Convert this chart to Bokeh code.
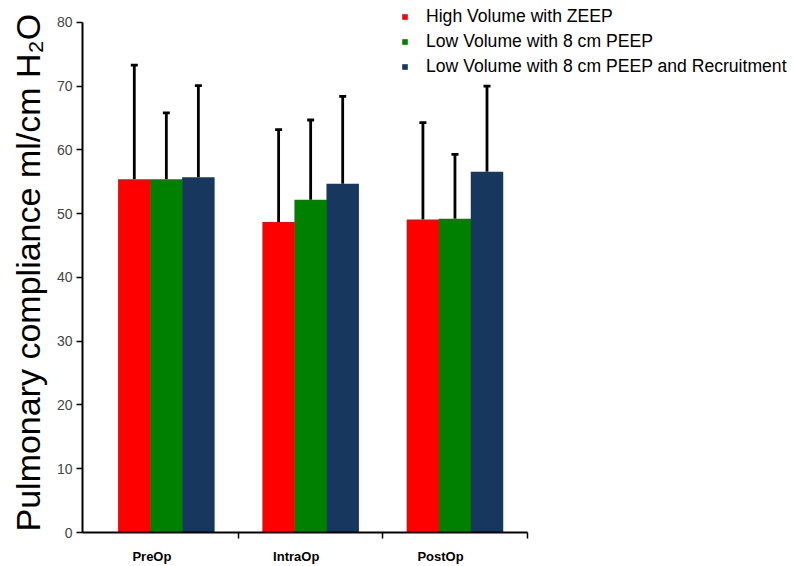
from bokeh.plotting import figure
from bokeh.models import ColumnDataSource, Whisker, Legend, LegendItem, FixedTicker, TeeHead, Range1d, Title
from bokeh.embed import file_html
from bokeh.resources import INLINE

periods = ["PreOp", "IntraOp", "PostOp"]
series_names = ["High Volume with ZEEP",
                "Low Volume with 8 cm PEEP",
                "Low Volume with 8 cm PEEP and Recruitment"]
high_zeep_mean = [55.4, 48.7, 49.1]
high_zeep_upper = [73.3, 63.2, 64.3]
low_peep_mean = [55.4, 52.2, 49.2]
low_peep_upper = [65.8, 64.7, 59.3]
low_peep_rm_mean = [55.7, 54.7, 56.6]
low_peep_rm_upper = [70.1, 68.4, 70.0]
y_ticks = [0, 10, 20, 30, 40, 50, 60, 70, 80]

colors = ["#FF0000", "#008000", "#17375E"]
means = [high_zeep_mean, low_peep_mean, low_peep_rm_mean]
uppers = [high_zeep_upper, low_peep_upper, low_peep_rm_upper]
offsets = [-0.222, 0.0, 0.222]
bar_w = 0.225

p = figure(width=794, height=566, output_backend="svg", toolbar_location=None,
           x_range=Range1d(-0.581, 4.339), y_range=Range1d(0, 83.44),
           min_border_left=81, min_border_right=2, min_border_top=0, min_border_bottom=33)
p.outline_line_color = None
p.xgrid.grid_line_color = None
p.ygrid.grid_line_color = None

renderers = []
for name, col, m, u, off in zip(series_names, colors, means, uppers, offsets):
    xs = [i + off for i in range(len(periods))]
    src = ColumnDataSource(dict(x=xs, top=m, upper=u))
    r = p.vbar(x="x", top="top", bottom=0, width=bar_w, source=src,
               fill_color=col, line_color=None)
    renderers.append(r)
    w = Whisker(base="x", lower="top", upper="upper", source=src, dimension="height",
                line_color="black", line_width=2.8,
                upper_head=TeeHead(size=7, line_color="black", line_width=2.8),
                lower_head=None)
    p.add_layout(w)

legend = Legend(items=[LegendItem(label=n, renderers=[r]) for n, r in zip(series_names, renderers)],
                location=(319, 455), orientation="vertical",
                glyph_width=7, glyph_height=7, label_standoff=18, label_height=20, spacing=4,
                padding=0, margin=0, background_fill_alpha=0, border_line_alpha=0,
                label_text_font="Liberation Sans", label_text_font_size="17.6px",
                label_text_color="black")
p.add_layout(legend)

# x axis
label_pos = [i - 0.1 for i in range(len(periods))]
p.xaxis.ticker = FixedTicker(ticks=label_pos, minor_ticks=[0.5, 1.5, 2.5])
p.xaxis.major_label_overrides = {lp: name for lp, name in zip(label_pos, periods)}
p.xaxis.bounds = (-0.581, 2.5)
p.xaxis.axis_line_color = "black"
p.xaxis.axis_line_width = 2
p.xaxis.major_tick_out = 0
p.xaxis.major_tick_in = 0
p.xaxis.minor_tick_out = 6
p.xaxis.minor_tick_in = 0
p.xaxis.minor_tick_line_color = "black"
p.xaxis.minor_tick_line_width = 1.5
p.xaxis.major_label_text_font = "Liberation Sans"
p.xaxis.major_label_text_font_style = "bold"
p.xaxis.major_label_text_font_size = "13px"
p.xaxis.major_label_text_color = "black"
p.xaxis.major_label_standoff = 10

# y axis
p.yaxis.ticker = FixedTicker(ticks=y_ticks, minor_ticks=[])
p.yaxis.bounds = (0, 80)
p.yaxis.axis_line_color = "black"
p.yaxis.axis_line_width = 2
p.yaxis.major_tick_out = 6
p.yaxis.major_tick_in = 0
p.yaxis.major_tick_line_color = "black"
p.yaxis.major_tick_line_width = 1.5
p.yaxis.major_label_text_font = "Liberation Sans"
p.yaxis.major_label_text_font_size = "14px"
p.yaxis.major_label_text_color = "#444444"
p.yaxis.major_label_standoff = 4

ytitle = Title(text="Pulmonary compliance ml/cm H\u2082O", align="left", offset=1,
               text_font="Liberation Sans", text_font_size="34px",
               text_font_style="normal", text_color="black", standoff=13)
p.add_layout(ytitle, "left")

open("out.html", "w").write(file_html(p, INLINE))
